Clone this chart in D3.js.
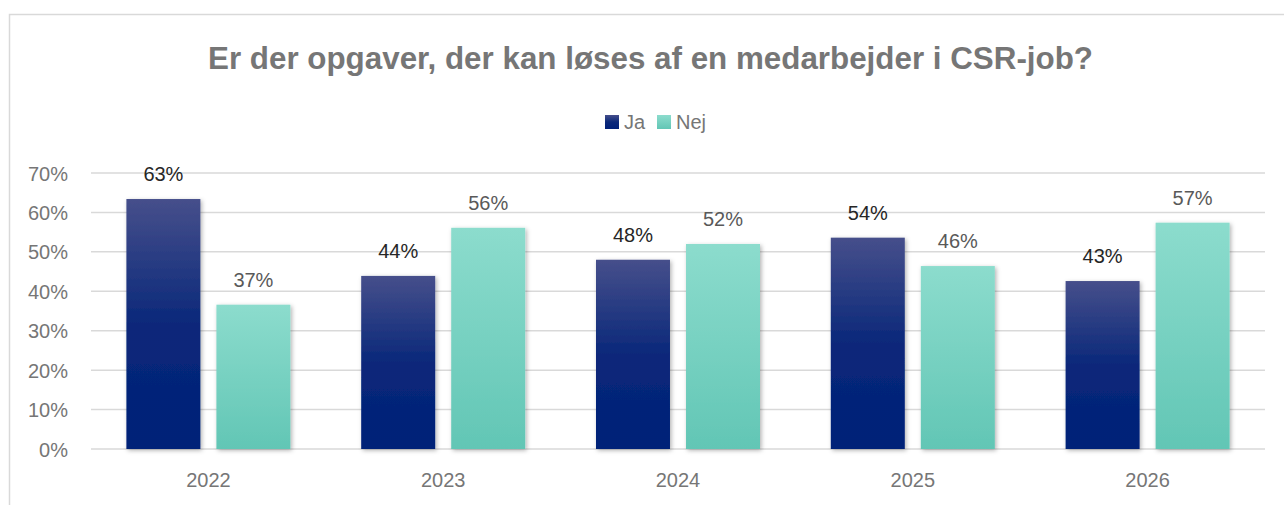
<!DOCTYPE html>
<html><head><meta charset="utf-8">
<script src="https://cdn.jsdelivr.net/npm/d3@7"></script>
<style>html,body{margin:0;padding:0;background:#fff;}svg{display:block;}</style>
</head><body>
<script>
const years = ["2022","2023","2024","2025","2026"];
const seriesNames = ["Ja","Nej"];
const jaValues = [0.634, 0.439, 0.480, 0.536, 0.426];
const nejValues = [0.366, 0.561, 0.520, 0.464, 0.574];
const jaLabels = ["63%","44%","48%","54%","43%"];
const nejLabels = ["37%","56%","52%","46%","57%"];
const yTicks = [0,0.1,0.2,0.3,0.4,0.5,0.6,0.7];
const title = "Er der opgaver, der kan løses af en medarbejder i CSR-job?";

const W = 1284, H = 505;
const svg = d3.select("body").append("svg").attr("width", W).attr("height", H);
const defs = svg.append("defs");
const gJa = defs.append("linearGradient").attr("id","gJa").attr("x1",0).attr("y1",0).attr("x2",0).attr("y2",1);
gJa.append("stop").attr("offset","0%").attr("stop-color","#464f8b");
gJa.append("stop").attr("offset","50%").attr("stop-color","#0a287a");
gJa.append("stop").attr("offset","100%").attr("stop-color","#002078");
const gNej = defs.append("linearGradient").attr("id","gNej").attr("x1",0).attr("y1",0).attr("x2",0).attr("y2",1);
gNej.append("stop").attr("offset","0%").attr("stop-color","#8cdccd");
gNej.append("stop").attr("offset","100%").attr("stop-color","#62c6b5");
const f = defs.append("filter").attr("id","sh").attr("x","-20%").attr("y","-10%").attr("width","140%").attr("height","125%");
f.append("feDropShadow").attr("dx",1.5).attr("dy",1.5).attr("stdDeviation",2).attr("flood-color","#000").attr("flood-opacity",0.3);

// chart border
svg.append("rect").attr("x",9.5).attr("y",14.5).attr("width",1400).attr("height",600)
  .attr("fill","none").attr("stroke","#d9d9d9").attr("stroke-width",1.5);

const font = "'Liberation Sans', Arial, sans-serif";

// title
svg.append("text").attr("x",650.5).attr("y",69).attr("text-anchor","middle")
  .attr("font-family",font).attr("font-weight","bold").attr("font-size",32)
  .attr("fill","#767676").attr("textLength",885).attr("lengthAdjust","spacingAndGlyphs")
  .text(title);

// scales
const x = d3.scaleBand().domain(years).range([91,1265]).paddingInner(0).paddingOuter(0);
const xi = d3.scaleBand().domain(seriesNames).range([35.4, 35.4+164]).paddingInner(0.178).paddingOuter(0);
const y = d3.scaleLinear().domain([0,0.7]).range([449,173]);

// gridlines
svg.append("g").selectAll("line").data(yTicks).join("line")
  .attr("x1",91).attr("x2",1265).attr("y1",d=>y(d)).attr("y2",d=>y(d))
  .attr("stroke","#d9d9d9").attr("stroke-width",1.5);

// y axis labels
const yAxis = d3.axisLeft(y).tickValues(yTicks).tickFormat(d3.format(".0%")).tickSize(0).tickPadding(0);
const ya = svg.append("g").attr("transform","translate(68,0)").call(yAxis);
ya.select(".domain").remove();
ya.selectAll("text").attr("font-family",font).attr("font-size",20).attr("fill","#767676").attr("dy","0.35em");

// x axis labels
const xAxis = d3.axisBottom(x).tickSize(0).tickPadding(0);
const xa = svg.append("g").attr("transform","translate(0,487)").call(xAxis);
xa.select(".domain").remove();
xa.selectAll("text").attr("font-family",font).attr("font-size",20).attr("fill","#767676").attr("dy",0);

// bars
const data = years.map((yr,i)=>[
  {yr, s:"Ja", v:jaValues[i], lab:jaLabels[i]},
  {yr, s:"Nej", v:nejValues[i], lab:nejLabels[i]}
]).flat();

svg.append("g").selectAll("rect").data(data).join("rect")
  .attr("x",d=>x(d.yr)+xi(d.s)).attr("width",xi.bandwidth())
  .attr("y",d=>y(d.v)).attr("height",d=>y(0)-y(d.v))
  .attr("fill",d=>d.s==="Ja"?"url(#gJa)":"url(#gNej)")
  .attr("filter","url(#sh)");

svg.append("g").selectAll("text").data(data).join("text")
  .attr("x",d=>x(d.yr)+xi(d.s)+xi.bandwidth()/2).attr("y",d=>y(d.v)-18)
  .attr("text-anchor","middle").attr("font-family",font).attr("font-size",20)
  .attr("fill",d=>d.s==="Ja"?"#262626":"#595959").text(d=>d.lab);

// legend
const leg = [{s:"Ja", x:605, fill:"url(#gJa)"},{s:"Nej", x:657, fill:"url(#gNej)"}];
const lg = svg.append("g");
lg.selectAll("rect").data(leg).join("rect").attr("x",d=>d.x).attr("y",115).attr("width",14).attr("height",14).attr("fill",d=>d.fill);
lg.selectAll("text").data(leg).join("text").attr("x",d=>d.x+19).attr("y",129)
  .attr("font-family",font).attr("font-size",20).attr("fill","#767676").text(d=>d.s);
</script>
</body></html>
